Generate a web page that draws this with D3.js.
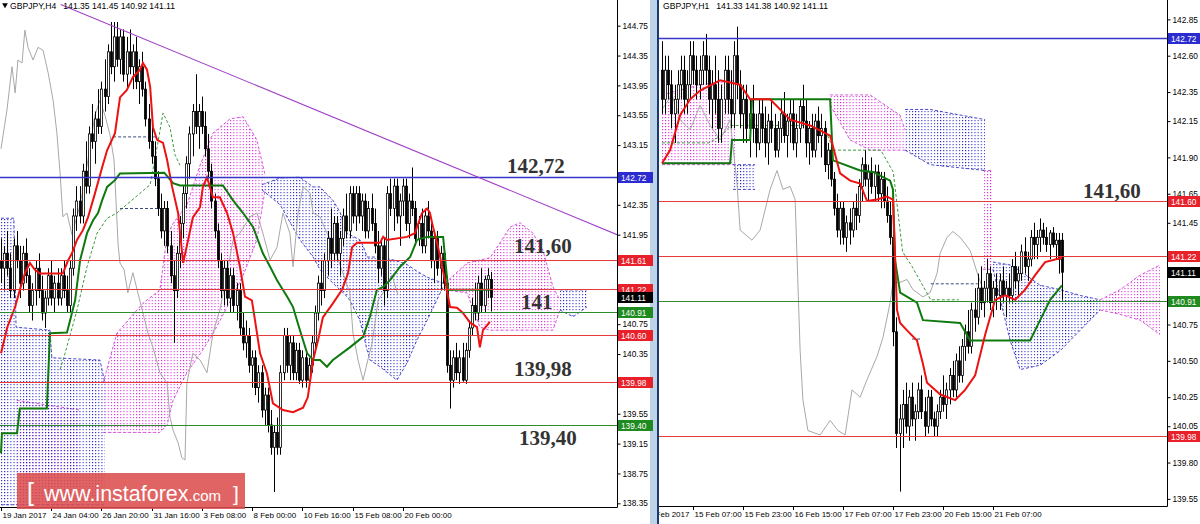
<!DOCTYPE html>
<html><head><meta charset="utf-8">
<script src="https://cdn.jsdelivr.net/npm/d3@7"></script>
<style>body{margin:0;background:#fff}svg{display:block}</style>
</head><body>
<svg id="c" width="1200" height="524"></svg>
<script>
// ---------------- DATA: H4 (left) ----------------
const h4Candles = [
[141.6,141.9,141.3,141.5],[141.5,141.8,141.2,141.7],[141.7,142.0,141.4,141.5],[141.5,141.7,141.1,141.2],[141.2,141.9,141.1,141.8],
[141.8,142.0,141.5,141.6],[141.6,141.8,141.1,141.3],[141.3,141.8,141.2,141.7],[141.7,141.9,141.3,141.4],[141.4,141.5,140.9,141.0],
[141.0,141.3,140.8,141.2],[141.2,141.6,141.0,141.5],[141.5,141.7,141.1,141.2],[141.2,141.4,140.8,140.9],[140.9,141.2,140.7,141.1],
[141.1,141.5,141.0,141.4],[141.4,141.6,141.0,141.1],[141.1,141.4,140.9,141.3],[141.3,141.5,141.0,141.1],[141.1,141.5,141.0,141.4],
[141.4,141.6,141.1,141.2],[141.2,141.4,140.9,141.0],[141.0,141.6,140.9,141.5],[141.5,142.3,141.4,142.2],[142.2,142.6,142.0,142.4],
[142.4,142.6,142.1,142.2],[142.2,142.9,142.1,142.8],[142.8,143.2,142.5,142.6],[142.6,143.4,142.5,143.3],[143.3,143.7,143.1,143.2],
[143.2,143.6,142.9,143.5],[143.5,143.9,143.3,143.4],[143.4,144.0,143.3,143.9],[143.9,144.3,143.6,143.8],[143.8,144.5,143.7,144.4],
[144.4,144.8,144.1,144.2],[144.2,144.8,144.0,144.6],[144.6,144.8,144.2,144.3],[144.3,144.7,144.1,144.6],[144.6,144.7,144.0,144.1],
[144.1,144.6,143.9,144.4],[144.4,144.7,144.1,144.2],[144.2,144.5,143.9,144.4],[144.4,144.6,143.9,144.0],[144.0,144.3,143.7,144.2],
[144.2,144.4,143.8,143.9],[143.9,144.0,143.4,143.5],[143.5,143.7,143.1,143.2],[143.2,143.5,142.9,143.0],[143.0,143.2,142.6,142.7],
[142.7,142.8,142.2,142.3],[142.3,142.5,141.9,142.0],[142.0,142.4,141.8,142.3],[142.3,142.4,141.7,141.8],[141.8,142.0,141.3,141.4],
[141.4,141.6,140.5,141.2],[141.2,141.8,141.1,141.7],[141.7,142.2,141.5,142.1],[142.1,142.6,141.9,142.5],[142.5,143.0,142.3,142.9],
[142.9,143.4,142.7,143.3],[143.3,143.7,143.0,143.6],[143.6,144.1,143.3,143.4],[143.4,143.7,143.1,143.6],[143.6,143.8,143.3,143.4],
[143.4,143.6,143.0,143.1],[143.1,143.3,142.7,142.8],[142.8,142.9,142.3,142.4],[142.4,142.5,141.9,142.0],[142.0,142.1,141.5,141.6],
[141.6,141.7,141.1,141.2],[141.2,141.6,141.0,141.5],[141.5,141.6,141.0,141.1],[141.1,141.5,140.9,141.4],[141.4,141.5,140.9,141.0],
[141.0,141.3,140.8,141.2],[141.2,141.3,140.6,140.7],[140.7,140.9,140.4,140.5],[140.5,140.8,140.3,140.6],[140.6,140.7,140.1,140.2],
[140.2,140.4,139.9,140.3],[140.3,140.4,139.8,139.9],[139.9,140.2,139.7,140.1],[140.1,140.2,139.5,139.6],[139.6,139.9,139.4,139.8],
[139.8,139.9,139.3,139.4],[139.4,139.6,139.0,139.1],[139.1,139.4,138.5,139.3],[139.3,139.5,139.0,139.1],[139.1,140.2,139.0,140.1],
[140.1,140.7,140.0,140.6],[140.6,140.7,140.1,140.2],[140.2,140.6,140.0,140.5],[140.5,140.6,140.0,140.1],[140.1,140.5,140.0,140.4],
[140.4,140.5,139.95,140.0],[140.0,140.4,139.9,140.3],[140.3,140.4,139.9,140.0],[140.0,140.3,139.9,140.2],[140.2,140.6,140.1,140.5],
[140.5,141.0,140.4,140.9],[140.9,141.4,140.8,141.3],[141.3,141.6,141.0,141.2],[141.2,141.7,141.1,141.6],[141.6,142.0,141.4,141.9],
[141.9,142.3,141.5,141.7],[141.7,142.2,141.6,142.1],[142.1,142.2,141.6,141.7],[141.7,142.0,141.4,141.9],[141.9,142.3,141.8,142.2],
[142.2,142.5,141.9,142.0],[142.0,142.6,141.9,142.5],[142.5,142.6,142.1,142.2],[142.2,142.6,142.0,142.5],[142.5,142.6,142.1,142.2],
[142.2,142.5,142.0,142.4],[142.4,142.5,141.9,142.0],[142.0,142.4,141.9,142.3],[142.3,142.5,142.0,142.1],[142.1,142.3,141.7,141.8],
[141.8,142.0,141.3,141.5],[141.5,141.9,141.4,141.8],[141.8,141.9,141.0,141.2],[141.2,142.6,141.1,142.5],[142.5,142.7,142.2,142.3],
[142.3,142.7,142.0,142.6],[142.6,142.7,142.1,142.2],[142.2,142.5,141.8,142.4],[142.4,142.7,142.2,142.6],[142.6,142.7,142.0,142.1],
[142.1,142.5,141.9,142.4],[142.4,142.85,142.2,142.3],[142.3,142.4,141.8,141.9],[141.9,142.2,141.8,142.1],[142.1,142.3,141.7,141.8],
[141.8,142.3,141.7,142.2],[142.2,142.4,141.9,142.0],[142.0,142.1,141.5,141.6],[141.6,142.0,141.3,141.9],[141.9,142.0,141.4,141.5],
[141.5,141.8,141.2,141.7],[141.7,141.8,141.2,141.3],[141.3,141.4,140.1,140.2],[140.2,140.4,139.62,140.0],[140.0,140.4,139.9,140.3],
[140.3,140.5,140.0,140.1],[140.1,140.4,139.95,140.3],[140.3,140.5,139.98,140.0],[140.0,140.5,139.95,140.4],[140.4,140.8,140.3,140.7],
[140.7,141.1,140.6,141.0],[141.0,141.3,140.8,140.9],[140.9,141.4,140.8,141.3],[141.3,141.5,140.9,141.0],[141.0,141.4,140.9,141.35],
[141.35,141.5,141.1,141.4],[141.35,141.45,140.92,141.11]
];
const h4Tenkan = [[0,140.36],[2,140.71],[4.5,140.98],[6,141.21],[7.6,141.43],[9.2,141.57],[10.8,141.48],[12.4,141.43],[19.7,141.43],[21.3,141.6],[22.6,141.7],[24.2,141.88],[26.1,142.01],[27.7,142.18],[29.9,142.5],[32.2,142.85],[33.8,143.08],[36.3,143.31],[37.9,143.79],[40.1,143.89],[42,144.06],[44.3,144.16],[45.2,144.25],[46.5,144.16],[47.5,143.93],[48.4,143.39],[49.7,143.22],[51.6,143.18],[52.9,142.95],[54.5,142.59],[56.4,142.24],[58,141.57],[59.6,141.88],[61.1,142.18],[63.4,142.32],[64.3,142.59],[65.6,142.72],[67.5,142.45],[69.7,142.45],[72,142.24],[73.9,141.97],[76.1,141.52],[77.7,141.12],[79.9,141.07],[80.9,140.8],[82.5,140.36],[84.7,140.09],[86.6,139.69],[89.8,139.6],[93,139.57],[96.2,139.63],[97.7,139.77],[99.4,140.27],[101,140.54],[102.5,140.84],[105.7,141.03],[108.6,141.21],[110.5,141.43],[111.8,141.78],[113.4,141.84],[120.7,141.84],[121.7,141.92],[122.9,141.88],[129.3,141.92],[131.8,141.97],[134.1,142.24],[135.7,142.3],[136.6,142.24],[137.6,142.05],[138.9,141.84],[141.4,141.34],[143,140.98],[145.2,140.97],[147.1,140.9],[149.4,140.77],[151.6,140.71],[152.5,140.44],[153.5,140.67],[155.7,140.78]];
const h4Kijun = [[0,139.02],[0.3,139.29],[5.1,139.29],[6,139.62],[14.6,139.62],[15.6,140.63],[21,140.64],[22,140.8],[23.6,141.07],[25.2,141.61],[27.4,141.97],[29.3,142.14],[30.9,142.24],[32.2,142.41],[33.8,142.59],[36.3,142.68],[37.9,142.77],[52,142.78],[54.8,142.64],[57,142.61],[70.7,142.61],[73.9,142.41],[77.1,142.24],[80.3,142.05],[83.4,141.70],[85.7,141.52],[87.9,141.34],[91.1,141.12],[93,140.98],[95.2,140.67],[97.5,140.36],[99.4,140.27],[101.6,140.27],[103.8,140.18],[105.7,140.27],[111.1,140.44],[115.3,140.58],[117.5,140.85],[119.7,141.21],[121.7,141.25],[123.9,141.34],[127.1,141.52],[130.3,141.65],[132.5,141.88],[135.7,141.92],[140.8,141.92],[142.4,141.21],[155.7,141.21]];
const h4Chikou = [[0,143.10],[1.9,143.62],[3.5,144.20],[4.5,143.85],[5.4,144.29],[6.7,144.25],[7.6,144.69],[8.6,144.46],[10.2,144.29],[11.8,144.46],[13.4,144.42],[15,144.12],[16.6,143.75],[17.8,143.31],[18.8,142.78],[19.7,142.19],[21,142.24],[22.6,141.95],[25.2,142.35],[27.7,142.95],[29.9,143.55],[31.5,143.75],[33.1,143.55],[34.7,143.29],[36,142.95],[37.3,141.81],[37.9,141.57],[39.2,141.48],[40.4,141.17],[42,141.44],[43.6,141.17],[45.2,140.90],[46.8,140.63],[48.4,140.44],[50.6,140.10],[52.9,139.96],[53.8,139.51],[54.8,139.33],[56.4,139.16],[57.6,138.96],[58.6,138.93],[59.2,139.96],[61.1,140.36],[63.4,140.27],[65.6,140.10],[67.5,140.63],[69.7,140.94],[72,141.44],[73.9,141.88],[76.1,141.97],[79.3,142.19],[81.5,142.24],[83.4,141.97],[85.7,141.61],[87.9,141.78],[89.8,142.24],[92,141.97],[93,141.52],[94.6,142.24],[96.2,142.59],[98.4,142.51],[99.4,142.24],[101.6,142.19],[103.8,141.97],[105.7,141.84],[108,141.54],[111.1,141.17],[112.1,140.63],[113.7,140.27],[115.3,140.00],[116.6,140.23],[118.2,140.50],[120.1,141.07],[122.3,141.21],[124.5,141.41],[126.4,141.14]];
// extra dashed guide lines (green dashed, dark dashed)
const h4GreenDash = [[18.8,140.14],[20.4,140.36],[24.2,140.94],[27.4,141.52],[30.6,141.97],[33.8,142.17],[36.9,142.24],[47.5,142.62],[49.7,143.12],[51.6,143.58],[53.8,143.39],[55.4,143.02],[57,142.88]];
const h4DarkDash = [[[35.7,143.26],[49.7,143.26]],[[37.9,142.30],[49.7,142.30]]];
// cloud segments: [bar, top, bottom]
const h4CloudBlue = [
 [[0,142.17,138.33],[4.1,142.17,138.33],[4.8,140.71,138.33],[15.6,140.67,138.33],[16.2,140.30,138.33],[31.5,140.27,138.33],[33.1,139.96,138.33]],
 [[83.1,142.62,142.55],[88.9,142.71,142.35],[95.2,142.72,141.88],[99.4,142.59,141.65],[101.6,142.59,141.48],[105.7,142.41,141.30],[108,142.25,141.21],[110.2,141.97,141.12],[111.1,141.95,141.07],[114.3,141.88,140.80],[115.3,141.80,140.63],[116.6,141.65,140.40],[117.5,141.65,140.27],[120.7,141.65,140.18],[126.1,141.60,140.00],[129.3,141.55,140.23],[132.5,141.46,140.54],[135.7,141.38,140.80],[140.8,141.30,141.25]],
 [[178,141.21,140.94],[182.2,141.21,140.85],[186.6,141.21,140.98]]
];
const h4CloudPink = [
 [[5,139.73,138.33],[25,139.6,138.33]],
 [[32.5,139.96,139.30],[36.9,140.63,139.30],[45.2,141.03,139.30],[50.6,141.21,139.30],[52.9,141.94,139.40],[54.8,142.10,139.73],[59.2,142.35,140.10],[63.4,142.88,140.35],[67.5,143.31,140.62],[72.9,143.50,141.05],[77.1,143.53,141.40],[81.5,143.22,141.88],[84.1,142.75,142.55]],
 [[141.4,141.30,141.21],[148.4,141.57,141.17],[152.5,141.61,140.71],[155.7,141.64,140.67],[158.9,141.84,140.67],[162.1,142.05,140.67],[165.3,142.11,140.67],[169.4,141.97,140.67],[172.6,141.74,140.67],[175.8,141.25,140.67],[178,141.07,140.94]]
];
const h4Trend = [[19,145.035],[196.2,141.95]];
const h4Levels = [142.72,141.61,141.22,140.91,140.60,139.98,139.40];
const h4LevelKinds = ['blue','red','red','green','red','red','green'];
const h4Ticks = [144.75,144.35,143.95,143.55,143.15,142.35,141.95,140.75,140.35,139.55,139.15,138.75,138.35];
const h4TimeBars = [0,16,32,48,64,80,96,112,128];
const h4TimeLabels = ['19 Jan 2017','24 Jan 04:00','26 Jan 20:00','31 Jan 16:00','3 Feb 08:00','8 Feb 00:00','10 Feb 16:00','15 Feb 08:00','20 Feb 00:00'];
const h4Notes = ['142,72','141,60','141','139,98','139,40'];
const h4NoteLevels = [142.72,141.61,140.91,139.98,139.40];
const h4Header = 'GBPJPY,H4   141.35 141.45 140.92 141.11';

// ---------------- DATA: H1 (right) ----------------
const h1Candles = [
[142.5,142.7,142.2,142.3],[142.3,142.6,142.2,142.5],[142.5,142.6,142.3,142.4],[142.4,142.5,142.1,142.2],[142.2,142.4,142.0,142.3],
[142.3,142.5,142.2,142.4],[142.4,142.6,142.3,142.5],[142.5,142.6,142.2,142.3],[142.3,142.5,142.2,142.4],[142.4,142.7,142.3,142.6],
[142.6,142.7,142.4,142.5],[142.5,142.6,142.3,142.4],[142.4,142.6,142.3,142.5],[142.5,142.7,142.4,142.6],[142.6,142.75,142.4,142.5],
[142.5,142.6,142.2,142.3],[142.3,142.5,142.1,142.4],[142.4,142.6,142.2,142.3],[142.3,142.5,142.0,142.1],[142.1,142.4,142.0,142.3],
[142.3,142.6,142.2,142.5],[142.5,142.6,142.2,142.3],[142.3,142.5,142.1,142.2],[142.2,142.7,142.1,142.6],[142.6,142.8,142.3,142.4],
[142.4,142.5,142.1,142.2],[142.2,142.4,142.0,142.3],[142.3,142.4,142.0,142.1],[142.1,142.3,141.9,142.2],[142.2,142.4,142.0,142.1],
[142.1,142.2,141.9,142.0],[142.0,142.3,141.95,142.2],[142.2,142.3,142.0,142.1],[142.1,142.25,141.9,142.0],[142.0,142.2,141.85,142.15],
[142.15,142.3,142.0,142.1],[142.1,142.2,141.9,141.95],[141.95,142.15,141.9,142.1],[142.1,142.3,142.0,142.2],[142.2,142.35,142.0,142.05],
[142.05,142.2,141.9,142.15],[142.15,142.3,142.0,142.2],[142.2,142.3,141.95,142.0],[142.0,142.2,141.9,142.1],[142.1,142.3,142.0,142.25],
[142.25,142.4,142.1,142.15],[142.15,142.3,141.9,142.0],[142.0,142.15,141.85,142.1],[142.1,142.2,141.9,141.95],[141.95,142.2,141.9,142.15],
[142.15,142.25,142.0,142.05],[142.05,142.2,141.9,142.1],[142.1,142.15,141.8,141.85],[141.85,142.0,141.75,141.95],[141.95,142.0,141.7,141.75],
[141.75,141.8,141.5,141.55],[141.55,141.65,141.35,141.4],[141.4,141.6,141.3,141.55],[141.55,141.6,141.3,141.35],[141.35,141.5,141.25,141.45],
[141.45,141.55,141.3,141.4],[141.4,141.6,141.35,141.55],[141.55,141.65,141.4,141.5],[141.5,141.75,141.45,141.7],[141.7,141.9,141.6,141.85],
[141.85,141.95,141.7,141.75],[141.75,141.85,141.6,141.8],[141.8,141.9,141.65,141.7],[141.7,141.85,141.6,141.8],[141.8,141.85,141.6,141.65],
[141.65,141.8,141.55,141.75],[141.75,141.8,141.55,141.6],[141.6,141.7,141.45,141.5],[141.5,141.6,141.3,141.35],[141.35,141.4,140.6,140.7],
[140.7,140.8,139.9,140.0],[140.0,140.2,139.6,140.1],[140.1,140.3,139.9,140.2],[140.2,140.35,140.0,140.05],[140.05,140.3,139.95,140.25],
[140.25,140.35,140.05,140.1],[140.1,140.2,139.95,140.15],[140.15,140.35,140.1,140.3],[140.3,140.4,140.1,140.15],[140.15,140.25,139.98,140.05],
[140.05,140.3,140.0,140.25],[140.25,140.3,140.05,140.1],[140.1,140.15,139.98,140.05],[140.05,140.2,139.98,140.15],[140.15,140.3,140.1,140.25],
[140.25,140.4,140.15,140.2],[140.2,140.35,140.1,140.3],[140.3,140.45,140.2,140.4],[140.4,140.5,140.25,140.3],[140.3,140.55,140.25,140.5],
[140.5,140.6,140.35,140.4],[140.4,140.65,140.35,140.6],[140.6,140.75,140.5,140.7],[140.7,140.85,140.55,140.6],[140.6,140.9,140.55,140.85],
[140.85,141.0,140.7,140.8],[140.8,141.1,140.75,141.0],[141.0,141.15,140.85,140.9],[140.9,141.05,140.8,141.0],[141.0,141.2,140.9,141.1],
[141.1,141.15,140.85,140.9],[140.9,141.05,140.8,141.0],[141.0,141.1,140.85,140.95],[140.95,141.1,140.85,141.05],[141.05,141.15,140.9,140.95],
[140.95,141.05,140.8,141.0],[141.0,141.1,140.9,140.95],[140.95,141.2,140.9,141.15],[141.15,141.25,141.0,141.05],[141.05,141.15,140.95,141.1],
[141.1,141.3,141.05,141.25],[141.25,141.35,141.1,141.15],[141.15,141.25,141.05,141.2],[141.2,141.4,141.15,141.35],[141.35,141.45,141.2,141.3],
[141.3,141.4,141.2,141.35],[141.35,141.48,141.25,141.4],[141.4,141.45,141.3,141.35],[141.35,141.42,141.25,141.3],[141.3,141.4,141.2,141.38],
[141.38,141.42,141.28,141.3],[141.3,141.38,141.2,141.33],[141.33,141.38,141.1,141.2],[141.33,141.38,140.92,141.11]
];
const h1Tenkan = [[0,141.86],[2.6,141.95],[5.8,142.19],[9,142.30],[12.2,142.36],[18.6,142.43],[25,142.40],[28.2,142.30],[34.6,142.30],[41,142.16],[47.4,142.12],[53.8,142.05],[57,141.79],[60.2,141.74],[63.4,141.72],[65.6,141.60],[68.8,141.61],[72,141.63],[73.9,141.61],[75.2,140.85],[76.2,140.76],[78.4,140.71],[81.6,140.64],[83.5,140.48],[84.8,140.35],[89,140.27],[93.8,140.23],[97,140.30],[100.2,140.40],[103.4,140.68],[106.6,140.92],[109.8,140.95],[113,140.92],[116.2,140.99],[119.4,141.09],[122.6,141.18],[128,141.21]];
const h1Kijun = [[0,141.86],[21.8,141.86],[22.4,142.02],[28.2,142.02],[28.8,142.30],[53.8,142.30],[54.7,141.88],[63.4,141.81],[67.5,141.80],[73,141.74],[73.9,141.68],[74.6,141.19],[76.2,140.97],[81.6,140.90],[83.5,140.78],[95.4,140.76],[98.6,140.64],[117.8,140.64],[121,140.78],[124.2,140.92],[128,141.02]];
const h1Chikou = [[0,142.23],[3.2,142.33],[5.8,142.16],[9,142.09],[12.2,142.26],[15.4,142.12],[18.6,142.02],[21.8,142.16],[24,141.72],[25,141.40],[28.8,141.33],[31.4,141.40],[34.6,141.68],[36.8,141.81],[38.7,141.68],[41,141.70],[42.6,141.61],[44.2,140.57],[45.1,140.23],[46.7,140.02],[50.6,139.99],[53.8,140.09],[56.3,140.02],[58.6,139.99],[60.8,140.30],[63.4,140.25],[65.6,140.37],[68.8,140.53],[70.7,140.66],[73,140.90],[73.9,141.04],[76.2,141.04],[78.4,141.06],[80.3,140.99],[83.5,140.94],[85.8,140.97],[88,141.10],[89,141.24],[91.2,141.35],[93.1,141.39],[95.4,141.35],[98.6,141.26],[101.1,141.09],[103.4,140.95]];
const h1GreenDash = [[0,142.00],[15,142.00],[19,142.05],[22,142.12],[48,142.12],[53,142.05],[55,141.95],[70,141.95],[74,141.80],[77,141.25],[80,141.15],[86,140.92],[95,140.92]];
const h1DarkDash = [[[86,141.03],[101,141.03]],[[80,140.65],[83,140.65]]];
const h1CloudBlue = [
 [[22.7,141.85,141.68],[29.8,141.85,141.68]],
 [[77.8,142.23,141.95],[85.8,142.23,141.85],[103.4,142.16,141.81]],
 [[105.9,141.18,141.13],[111.4,141.16,140.64],[114.6,141.12,140.44],[121,141.02,140.47],[127.4,140.99,140.57],[133.8,140.95,140.71],[140.2,140.92,140.85]]
];
const h1CloudPink = [
 [[0,142.33,141.85],[12.2,142.40,141.85],[23.4,142.43,141.85]],
 [[53.8,142.33,142.26],[60.2,142.33,142.02],[66.6,142.33,141.95],[76.2,142.19,141.95],[77.8,142.09,141.95]],
 [[102.7,141.81,141.13],[105.9,141.81,141.13]],
 [[140.2,140.92,140.85],[146.6,140.99,140.82],[153,141.09,140.78],[159.4,141.16,140.68]]
];
const h1Levels = [142.72,141.60,141.22,140.91,139.98];
const h1LevelKinds = ['blue','red','red','green','red'];
const h1Ticks = [142.85,142.60,142.35,142.15,141.90,141.65,141.45,140.75,140.50,140.25,140.05,139.80,139.55];
const h1TimeBars = [-6,10,26,42,58,74,90,106];
const h1TimeLabels = ['14 Feb 2017','15 Feb 07:00','15 Feb 23:00','16 Feb 15:00','17 Feb 07:00','17 Feb 23:00','20 Feb 15:00','21 Feb 07:00'];
const h1Notes = ['141,60'];
const h1NoteLevels = [141.60];
const h1Header = 'GBPJPY,H1   141.33 141.38 140.92 141.11';
const lastPrice = 141.11;

// ---------------- RENDER ----------------
const svg = d3.select('#c');
const defs = svg.append('defs');
const FONT = '"Liberation Sans", Arial, sans-serif';
const COL = {red:'#e8202a', blue:'#2b2bd0', green:'#1f8a1f', black:'#000'};
const levelStroke = {red:'#e43a3a', blue:'#3636c8', green:'#2e8b2e'};

svg.append('rect').attr('x',650).attr('y',0).attr('width',7).attr('height',524).attr('fill','#bcd3ea');
svg.append('rect').attr('x',657).attr('y',0).attr('width',2).attr('height',524).attr('fill','#1b3a6b');

function drawPanel(P) {
  const x = d3.scaleLinear().domain([0, 1]).range([P.x0, P.x0 + P.barW]);
  const y = d3.scaleLinear().domain(P.yDom).range(P.yRng);
  const clipId = 'clip' + P.id;
  defs.append('clipPath').attr('id', clipId).append('rect')
    .attr('x', P.left).attr('y', 0).attr('width', P.right - P.left).attr('height', P.bottom);
  ['pink','blue'].forEach(c => {
    const pat = defs.append('pattern').attr('id', c + P.id).attr('patternUnits','userSpaceOnUse')
      .attr('x', P.x0).attr('y', 0).attr('width', P.barW).attr('height', 3);
    pat.append('rect').attr('x',0).attr('y',0).attr('width',1).attr('height',1.2)
      .attr('fill', c === 'pink' ? '#dc22dc' : '#1e1ec4');
  });
  const g = svg.append('g').attr('clip-path', `url(#${clipId})`);

  // clouds
  const area = d3.area().x(d => x(d[0])).y0(d => y(d[2])).y1(d => y(d[1]));
  const lineTop = d3.line().x(d => x(d[0])).y(d => y(d[1]));
  const lineBot = d3.line().x(d => x(d[0])).y(d => y(d[2]));
  [['pink', P.pink, '#d040d4'], ['blue', P.blue, '#2c2cc4']].forEach(([c, segs, stroke]) => {
    segs.forEach(seg => {
      g.append('path').attr('d', area(seg)).attr('fill', `url(#${c}${P.id})`);
      [lineTop, lineBot].forEach(l => g.append('path').attr('d', l(seg)).attr('fill','none')
        .attr('stroke', stroke).attr('stroke-width', 1).attr('stroke-dasharray','3,2').attr('opacity',0.85));
    });
  });

  const line = d3.line().x(d => x(d[0])).y(d => y(d[1]));
  // chikou
  g.append('path').attr('d', line(P.chikou)).attr('fill','none').attr('stroke','#a8a8a8').attr('stroke-width',1);
  // dashed guide lines
  g.append('path').attr('d', line(P.greenDash)).attr('fill','none').attr('stroke','#3d9a3d')
    .attr('stroke-width',1).attr('stroke-dasharray','3,2');
  P.darkDash.forEach(s => g.append('path').attr('d', line(s)).attr('fill','none').attr('stroke','#3a4a7a')
    .attr('stroke-width',1).attr('stroke-dasharray','3,2'));

  // candles
  const cg = g.append('g');
  P.candles.forEach((c, i) => {
    const [o, h, l, cl] = c;
    const cx = Math.round(x(i)) + 0.5;
    cg.append('line').attr('x1', cx).attr('x2', cx).attr('y1', y(h)).attr('y2', y(l))
      .attr('stroke', '#000').attr('stroke-width', 1);
    const top = y(Math.max(o, cl)), bot = y(Math.min(o, cl));
    cg.append('rect').attr('x', cx - 1).attr('y', top).attr('width', 2).attr('height', Math.max(1, bot - top))
      .attr('fill', cl >= o ? '#fff' : '#000').attr('stroke', '#000').attr('stroke-width', 0.8);
  });

  // ichimoku lines
  g.append('path').attr('d', line(P.kijun)).attr('fill','none').attr('stroke','#0e7a0e').attr('stroke-width',2);
  g.append('path').attr('d', line(P.tenkan)).attr('fill','none').attr('stroke','#ee1111').attr('stroke-width',2);

  // horizontal levels
  P.levels.forEach((v, k) => {
    g.append('line').attr('x1', P.left).attr('x2', P.right).attr('y1', Math.round(y(v)) + 0.5).attr('y2', Math.round(y(v)) + 0.5)
      .attr('stroke', levelStroke[P.kinds[k]]).attr('stroke-width', P.kinds[k] === 'blue' ? 1.3 : 1);
  });
  // trendline
  if (P.trend) {
    g.append('path').attr('d', line(P.trend)).attr('stroke', '#a040c8').attr('stroke-width', 1.1).attr('fill','none');
  }
  // notes
  P.notes.forEach((t, k) => {
    g.append('text').attr('x', P.noteX[k]).attr('y', y(P.noteLevels[k]) + P.noteDy[k])
      .attr('font-family','"Liberation Serif", serif').attr('font-weight','bold').attr('font-size', 21)
      .attr('fill','#333').text(t);
  });

  // axes
  svg.append('line').attr('x1', P.right + 0.5).attr('x2', P.right + 0.5).attr('y1', 0).attr('y2', P.bottom + 0.5)
    .attr('stroke','#000');
  svg.append('line').attr('x1', P.left).attr('x2', P.right + 0.5).attr('y1', P.bottom + 0.5).attr('y2', P.bottom + 0.5)
    .attr('stroke','#000');
  const yAxis = d3.axisRight(y).tickValues(P.ticks).tickSize(3).tickFormat(d3.format('.2f'));
  const ya = svg.append('g').attr('transform', `translate(${P.right + 0.5},0)`).call(yAxis);
  ya.select('.domain').remove();
  ya.selectAll('text').attr('font-family', FONT).attr('font-size', 8.3).attr('fill','#000').attr('x', 5);

  const xClip = 'xclip' + P.id;
  defs.append('clipPath').attr('id', xClip).append('rect').attr('x', P.left).attr('y', P.bottom).attr('width', P.right - P.left + 2).attr('height', 30);
  const xa = svg.append('g').attr('clip-path', `url(#${xClip})`);
  P.timeBars.forEach((b, k) => {
    const tx = Math.round(x(b)) + 0.5;
    xa.append('line').attr('x1', tx).attr('x2', tx).attr('y1', P.bottom).attr('y2', P.bottom + 4).attr('stroke','#000');
    xa.append('text').attr('x', tx + 1).attr('y', P.bottom + 11).attr('font-family', FONT)
      .attr('font-size', 8).attr('fill','#000').text(P.timeLabels[k]);
  });

  // price labels on axis
  const boxes = P.levels.map((v, k) => ({v, kind: P.kinds[k]})).concat([{v: lastPrice, kind: 'black'}]);
  boxes.forEach(b => {
    const yy = Math.round(y(b.v));
    svg.append('rect').attr('x', P.right + 1).attr('y', yy - 5).attr('width', P.boxW).attr('height', 11).attr('fill', COL[b.kind]);
    svg.append('text').attr('x', P.right + 4).attr('y', yy + 4).attr('font-family', FONT)
      .attr('font-size', 8.3).attr('fill','#fff').text(d3.format('.2f')(b.v));
  });

  // header
  svg.append('text').attr('x', P.headerX).attr('y', 9).attr('font-family', FONT)
    .attr('font-size', 8.6).attr('fill','#000').style('white-space','pre').text(P.header);
}

drawPanel({id:'L', x0:1, barW:3.14, yDom:[144.75,138.35], yRng:[25.7,503.3], left:0, right:617, bottom:507,
  candles:h4Candles, tenkan:h4Tenkan, kijun:h4Kijun, chikou:h4Chikou, pink:h4CloudPink, blue:h4CloudBlue,
  greenDash:h4GreenDash, darkDash:h4DarkDash,
  levels:h4Levels, kinds:h4LevelKinds, trend:h4Trend, ticks:h4Ticks, timeBars:h4TimeBars, timeLabels:h4TimeLabels,
  notes:h4Notes, noteLevels:h4NoteLevels, noteX:[507,514,521,514,519], noteDy:[-4,-7,-3,-6,20], boxW:35, header:h4Header, headerX:10});
drawPanel({id:'R', x0:662, barW:3.125, yDom:[141.60,139.98], yRng:[201,436.4], left:659, right:1167, bottom:506,
  candles:h1Candles, tenkan:h1Tenkan, kijun:h1Kijun, chikou:h1Chikou, pink:h1CloudPink, blue:h1CloudBlue,
  greenDash:h1GreenDash, darkDash:h1DarkDash,
  levels:h1Levels, kinds:h1LevelKinds, trend:null, ticks:h1Ticks, timeBars:h1TimeBars, timeLabels:h1TimeLabels,
  notes:h1Notes, noteLevels:h1NoteLevels, noteX:[1083], noteDy:[-3], boxW:33, header:h1Header, headerX:663});

// header triangle
svg.append('path').attr('d', d3.symbol().type(d3.symbolTriangle).size(14)).attr('transform','translate(5,5) rotate(180)').attr('fill','#000');

// watermark
const wm = svg.append('g');
wm.append('rect').attr('x',17).attr('y',473).attr('width',228).attr('height',36).attr('fill','#dd4e4e').attr('opacity',0.88);
const wt = wm.append('text').attr('y',501).attr('fill','#fff').attr('font-family', FONT);
wt.append('tspan').attr('x',27).attr('font-size',25).text('[');
wt.append('tspan').attr('x',44).attr('font-size',21.5).text('www.instaforex');
wt.append('tspan').attr('font-size',15).text('.com');
wt.append('tspan').attr('x',233).attr('font-size',21).text(']');
</script>
</body></html>
